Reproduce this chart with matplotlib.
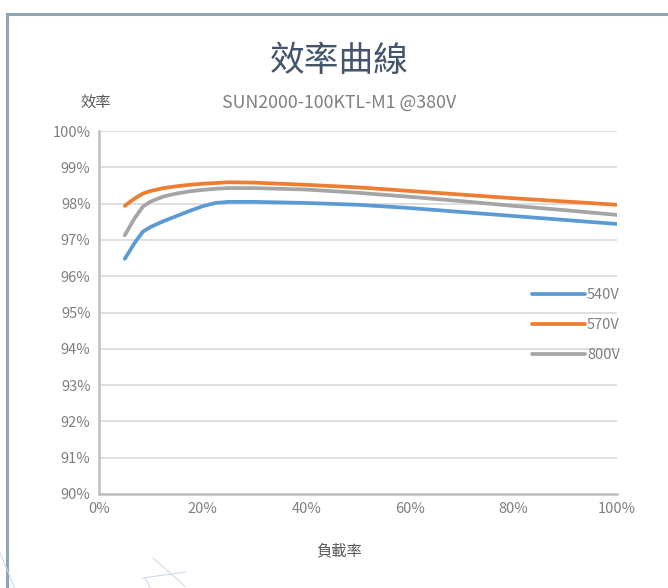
import matplotlib as mpl
import matplotlib.pyplot as plt
from matplotlib.lines import Line2D

plt.rcParams['font.family'] = ['Noto Sans CJK TC', 'DejaVu Sans']

# load ratio (%) and efficiency (%)
load = [5, 6, 7, 8.5, 10, 12.5, 15, 17.5, 20, 22.5, 25, 30, 40, 50, 60, 70,
        80, 90, 100]
eff_540 = [96.48, 96.71, 96.94, 97.23, 97.36, 97.52, 97.66, 97.80, 97.93,
           98.02, 98.05, 98.05, 98.02, 97.97, 97.88, 97.77, 97.66, 97.55,
           97.44]
eff_570 = [97.94, 98.05, 98.15, 98.28, 98.35, 98.43, 98.48, 98.52, 98.55,
           98.57, 98.59, 98.58, 98.52, 98.45, 98.35, 98.25, 98.15, 98.06,
           97.97]
eff_800 = [97.13, 97.38, 97.62, 97.92, 98.06, 98.20, 98.28, 98.34, 98.38,
           98.41, 98.43, 98.43, 98.39, 98.30, 98.19, 98.07, 97.94, 97.82,
           97.69]
series = [("540V", eff_540, "#5B9BD5"),
          ("570V", eff_570, "#ED7D31"),
          ("800V", eff_800, "#A5A5A5")]

x_ticks = [0, 20, 40, 60, 80, 100]
y_ticks = [90, 91, 92, 93, 94, 95, 96, 97, 98, 99, 100]

fig = plt.figure(figsize=(6.68, 5.88), dpi=100)
ax = fig.add_axes([0.148, 0.160, 0.776, 0.617])

for name, vals, col in series:
    ax.plot(load, vals, color=col, lw=2.7, label=name,
            solid_capstyle='round', solid_joinstyle='round')

ax.set_xlim(0, 100)
ax.set_ylim(90, 100)
ax.set_xticks(x_ticks)
ax.set_yticks(y_ticks)
ax.set_xticklabels([f"{t}%" for t in x_ticks])
ax.set_yticklabels([f"{t}%" for t in y_ticks])
ax.tick_params(length=0, labelsize=10.5, labelcolor="#7F7F7F", pad=6)
ax.grid(axis='y', color="#D9D9D9", lw=1.2)
ax.set_axisbelow(True)
for s in ['top', 'right']:
    ax.spines[s].set_visible(False)
for s in ['left', 'bottom']:
    ax.spines[s].set_color("#BFBFBF")
    ax.spines[s].set_linewidth(1.8)

leg = ax.legend(loc='upper left', bbox_to_anchor=(0.825, 0.583), frameon=False,
                fontsize=10.5, handlelength=3.6, handletextpad=0.15,
                labelspacing=1.1, borderaxespad=0)
for t in leg.get_texts():
    t.set_color("#7F7F7F")

fig.text(0.508, 0.895, "效率曲線", ha='center', va='center', fontsize=25,
         color="#44546A")
fig.text(0.507, 0.826, "SUN2000-100KTL-M1 @380V", ha='center', va='center',
         fontsize=12.8, color="#808080")
fig.text(0.143, 0.825, "效率", ha='center', va='center', fontsize=11,
         color="#595959")
fig.text(0.508, 0.063, "負載率", ha='center', va='center', fontsize=11,
         color="#595959")

# outer frame (left and top edges)
frame_col = "#8FA5B4"
fig.add_artist(Line2D([0.011, 0.011], [0, 0.977], color=frame_col, lw=2.2))
fig.add_artist(Line2D([0.011, 1.0], [0.977, 0.977], color=frame_col, lw=2.2))

# faint decorative strokes at bottom left
deco = "#C9D6EC"
fig.add_artist(Line2D([0.229, 0.277], [0.051, 0.003], color=deco, lw=0.7))
fig.add_artist(Line2D([0.213, 0.277], [0.017, 0.027], color=deco, lw=0.7))
fig.add_artist(Line2D([0.217, 0.235], [0.017, -0.02], color=deco, lw=0.7))
fig.add_artist(Line2D([0.0, 0.022], [0.06, 0.0], color=deco, lw=0.7))

fig.savefig("out.png", dpi=100)
